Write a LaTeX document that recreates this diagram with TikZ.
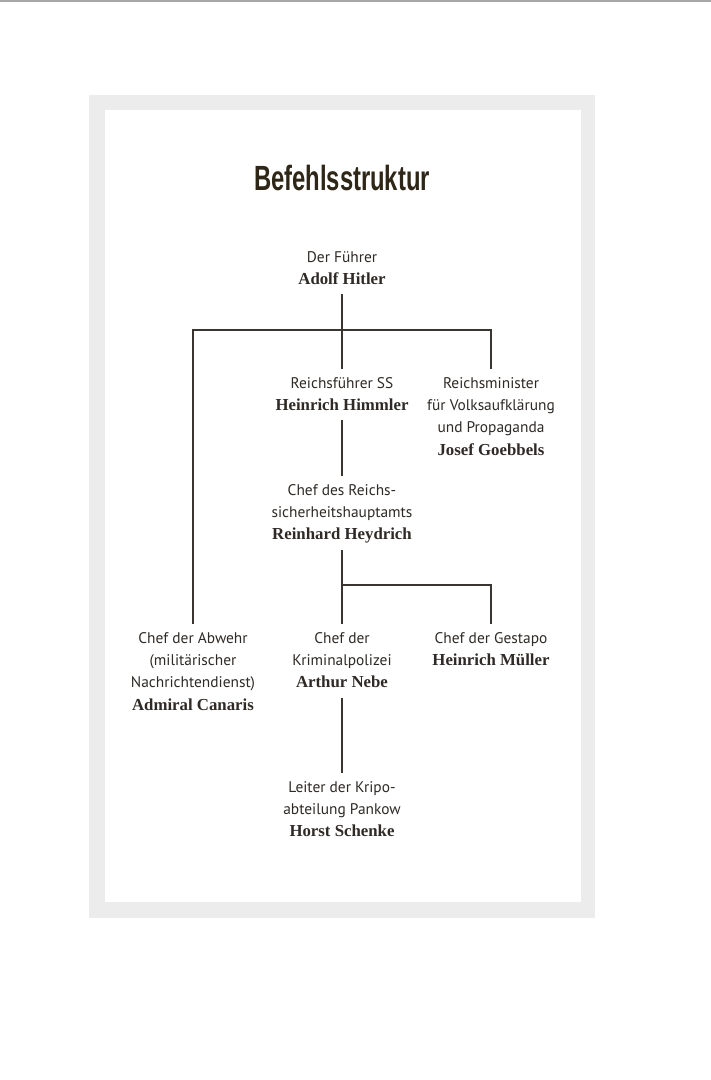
\documentclass[tikz,border=0pt]{standalone}
\usepackage{fontspec}
\setmainfont{PT Sans}
\newfontfamily\namefont{Liberation Serif}
\newfontfamily\titlefont[FakeStretch=0.68]{Liberation Sans}
\definecolor{txt}{HTML}{2F2A26}
\definecolor{ln}{HTML}{3A3531}
\definecolor{ttl}{HTML}{2E2616}
\definecolor{frame}{HTML}{ECECEC}
\definecolor{topline}{HTML}{A8A8A8}
\newcommand\nm[1]{{\namefont\bfseries\fontsize{16.8}{22.3}\selectfont #1}}
\tikzset{
  lbl/.style={anchor=north, align=center, inner xsep=0pt, inner ysep=3pt, text=txt,
    font=\fontsize{15.4}{22.3}\selectfont},
  conn/.style={draw=ln, line width=1.1pt}
}
\begin{document}
\begin{tikzpicture}[x=1pt,y=-1pt]
\useasboundingbox (0,0) rectangle (711,1080);
\fill[white] (0,0) rectangle (711,1080);
\fill[topline] (0,0) rectangle (711,1.5);
\fill[frame] (89,95) rectangle (595,918);
\fill[white] (105,110) rectangle (581,902);

\node[text=ttl, font=\titlefont\bfseries\fontsize{35}{38}\selectfont, inner sep=0pt] (title) at (342,178) {Befehlsstruktur};

\node[lbl] (hitler) at (342,243.4) {\strut Der Führer\\\nm{Adolf Hitler}\strut};
\node[lbl] (himmler) at (342,369.4) {\strut Reichsführer SS\\\nm{Heinrich Himmler}\strut};
\node[lbl] (goebbels) at (491,369.4) {\strut Reichsminister\\für Volksaufklärung\\und Propaganda\\\nm{Josef Goebbels}\strut};
\node[lbl] (heydrich) at (342,476.4) {\strut Chef des Reichs-\\sicherheitshauptamts\\\nm{Reinhard Heydrich}\strut};
\node[lbl] (canaris) at (193,624.4) {\strut Chef der Abwehr\\(militärischer\\Nachrichtendienst)\\\nm{Admiral Canaris}\strut};
\node[lbl] (nebe) at (342,624.4) {\strut Chef der\\Kriminalpolizei\\\nm{Arthur Nebe}\strut};
\node[lbl] (mueller) at (491,624.4) {\strut Chef der Gestapo\\\nm{Heinrich Müller}\strut};
\node[lbl] (schenke) at (342,773.4) {\strut Leiter der Kripo-\\abteilung Pankow\\\nm{Horst Schenke}\strut};

\coordinate (bar1) at (342,330);
\coordinate (bar2) at (342,585);

\draw[conn] (hitler.south) -- (himmler.north);
\draw[conn] (canaris.north) |- (bar1) -| (goebbels.north);
\draw[conn] (himmler.south) -- (heydrich.north);
\draw[conn] (heydrich.south) -- (nebe.north);
\draw[conn] (bar2) -| (mueller.north);
\draw[conn] (nebe.south) -- (schenke.north);
\end{tikzpicture}
\end{document}
